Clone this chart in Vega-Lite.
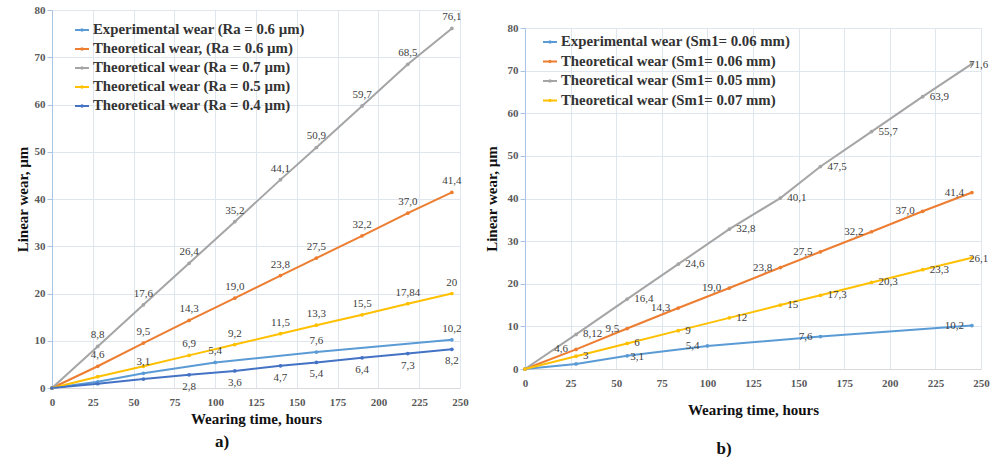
{
  "$schema": "https://vega.github.io/schema/vega-lite/v6.json",
  "padding": {"left": 15, "top": 4, "right": 0, "bottom": 0},
  "background": "white",
  "config": {
    "font": "Liberation Serif",
    "view": {"stroke": null},
    "axis": {
      "labelFont": "Liberation Serif", "labelFontSize": 11, "labelFontWeight": "bold", "labelColor": "#595959", "labelFlush": false,
      "titleFont": "Liberation Serif", "titleFontSize": 15, "titleFontWeight": "bold", "titleColor": "#111111",
      "gridColor": "#dfe6ee", "gridWidth": 1
    },
    "legend": {
      "labelFont": "Liberation Serif", "labelFontSize": 14.8, "labelFontWeight": "bold", "labelColor": "#333333", "labelLimit": 0,
      "symbolType": "M-1,0L1,0M-0.1,0a0.1,0.1 0 1,0 0.2,0a0.1,0.1 0 1,0 -0.2,0",
      "symbolSize": 196, "symbolStrokeWidth": 2, "rowPadding": 4, "padding": 0, "labelOffset": 3
    },
    "title": {"font": "Liberation Serif", "fontSize": 17, "fontWeight": "bold", "color": "#111111"}
  },
  "resolve": {"scale": {"color": "independent"}, "legend": {"color": "independent"}},
  "datasets": {
    "a": [
      {"series": "Experimental wear (Ra = 0.6 µm)", "hours": 0, "wear": 0, "label": ""},
      {"series": "Experimental wear (Ra = 0.6 µm)", "hours": 28, "wear": 1.3, "label": ""},
      {"series": "Experimental wear (Ra = 0.6 µm)", "hours": 56, "wear": 3.1, "label": "3,1"},
      {"series": "Experimental wear (Ra = 0.6 µm)", "hours": 100, "wear": 5.4, "label": "5,4"},
      {"series": "Experimental wear (Ra = 0.6 µm)", "hours": 162, "wear": 7.6, "label": "7,6"},
      {"series": "Experimental wear (Ra = 0.6 µm)", "hours": 245, "wear": 10.2, "label": "10,2"},
      {"series": "Theoretical wear, (Ra = 0.6 µm)", "hours": 0, "wear": 0, "label": ""},
      {"series": "Theoretical wear, (Ra = 0.6 µm)", "hours": 28, "wear": 4.6, "label": "4,6"},
      {"series": "Theoretical wear, (Ra = 0.6 µm)", "hours": 56, "wear": 9.5, "label": "9,5"},
      {"series": "Theoretical wear, (Ra = 0.6 µm)", "hours": 84, "wear": 14.3, "label": "14,3"},
      {"series": "Theoretical wear, (Ra = 0.6 µm)", "hours": 112, "wear": 19.0, "label": "19,0"},
      {"series": "Theoretical wear, (Ra = 0.6 µm)", "hours": 140, "wear": 23.8, "label": "23,8"},
      {"series": "Theoretical wear, (Ra = 0.6 µm)", "hours": 162, "wear": 27.5, "label": "27,5"},
      {"series": "Theoretical wear, (Ra = 0.6 µm)", "hours": 190, "wear": 32.2, "label": "32,2"},
      {"series": "Theoretical wear, (Ra = 0.6 µm)", "hours": 218, "wear": 37.0, "label": "37,0"},
      {"series": "Theoretical wear, (Ra = 0.6 µm)", "hours": 245, "wear": 41.4, "label": "41,4"},
      {"series": "Theoretical wear (Ra = 0.7 µm)", "hours": 0, "wear": 0, "label": ""},
      {"series": "Theoretical wear (Ra = 0.7 µm)", "hours": 28, "wear": 8.8, "label": "8,8"},
      {"series": "Theoretical wear (Ra = 0.7 µm)", "hours": 56, "wear": 17.6, "label": "17,6"},
      {"series": "Theoretical wear (Ra = 0.7 µm)", "hours": 84, "wear": 26.4, "label": "26,4"},
      {"series": "Theoretical wear (Ra = 0.7 µm)", "hours": 112, "wear": 35.2, "label": "35,2"},
      {"series": "Theoretical wear (Ra = 0.7 µm)", "hours": 140, "wear": 44.1, "label": "44,1"},
      {"series": "Theoretical wear (Ra = 0.7 µm)", "hours": 162, "wear": 50.9, "label": "50,9"},
      {"series": "Theoretical wear (Ra = 0.7 µm)", "hours": 190, "wear": 59.7, "label": "59,7"},
      {"series": "Theoretical wear (Ra = 0.7 µm)", "hours": 218, "wear": 68.5, "label": "68,5"},
      {"series": "Theoretical wear (Ra = 0.7 µm)", "hours": 245, "wear": 76.1, "label": "76,1"},
      {"series": "Theoretical wear (Ra = 0.5 µm)", "hours": 0, "wear": 0, "label": ""},
      {"series": "Theoretical wear (Ra = 0.5 µm)", "hours": 28, "wear": 2.4, "label": ""},
      {"series": "Theoretical wear (Ra = 0.5 µm)", "hours": 56, "wear": 4.6, "label": ""},
      {"series": "Theoretical wear (Ra = 0.5 µm)", "hours": 84, "wear": 6.9, "label": "6,9"},
      {"series": "Theoretical wear (Ra = 0.5 µm)", "hours": 112, "wear": 9.2, "label": "9,2"},
      {"series": "Theoretical wear (Ra = 0.5 µm)", "hours": 140, "wear": 11.5, "label": "11,5"},
      {"series": "Theoretical wear (Ra = 0.5 µm)", "hours": 162, "wear": 13.3, "label": "13,3"},
      {"series": "Theoretical wear (Ra = 0.5 µm)", "hours": 190, "wear": 15.5, "label": "15,5"},
      {"series": "Theoretical wear (Ra = 0.5 µm)", "hours": 218, "wear": 17.84, "label": "17,84"},
      {"series": "Theoretical wear (Ra = 0.5 µm)", "hours": 245, "wear": 20, "label": "20"},
      {"series": "Theoretical wear (Ra = 0.4 µm)", "hours": 0, "wear": 0, "label": ""},
      {"series": "Theoretical wear (Ra = 0.4 µm)", "hours": 28, "wear": 0.9, "label": ""},
      {"series": "Theoretical wear (Ra = 0.4 µm)", "hours": 56, "wear": 1.9, "label": ""},
      {"series": "Theoretical wear (Ra = 0.4 µm)", "hours": 84, "wear": 2.8, "label": "2,8"},
      {"series": "Theoretical wear (Ra = 0.4 µm)", "hours": 112, "wear": 3.6, "label": "3,6"},
      {"series": "Theoretical wear (Ra = 0.4 µm)", "hours": 140, "wear": 4.7, "label": "4,7"},
      {"series": "Theoretical wear (Ra = 0.4 µm)", "hours": 162, "wear": 5.4, "label": "5,4"},
      {"series": "Theoretical wear (Ra = 0.4 µm)", "hours": 190, "wear": 6.4, "label": "6,4"},
      {"series": "Theoretical wear (Ra = 0.4 µm)", "hours": 218, "wear": 7.3, "label": "7,3"},
      {"series": "Theoretical wear (Ra = 0.4 µm)", "hours": 245, "wear": 8.2, "label": "8,2"}
    ],
    "b": [
      {"series": "Experimental wear (Sm1= 0.06 mm)", "hours": 0, "wear": 0, "label": ""},
      {"series": "Experimental wear (Sm1= 0.06 mm)", "hours": 28, "wear": 1.2, "label": ""},
      {"series": "Experimental wear (Sm1= 0.06 mm)", "hours": 56, "wear": 3.1, "label": "3,1"},
      {"series": "Experimental wear (Sm1= 0.06 mm)", "hours": 100, "wear": 5.4, "label": "5,4"},
      {"series": "Experimental wear (Sm1= 0.06 mm)", "hours": 162, "wear": 7.6, "label": "7,6"},
      {"series": "Experimental wear (Sm1= 0.06 mm)", "hours": 245, "wear": 10.2, "label": "10,2"},
      {"series": "Theoretical wear (Sm1= 0.06 mm)", "hours": 0, "wear": 0, "label": ""},
      {"series": "Theoretical wear (Sm1= 0.06 mm)", "hours": 28, "wear": 4.6, "label": "4,6"},
      {"series": "Theoretical wear (Sm1= 0.06 mm)", "hours": 56, "wear": 9.5, "label": "9,5"},
      {"series": "Theoretical wear (Sm1= 0.06 mm)", "hours": 84, "wear": 14.3, "label": "14,3"},
      {"series": "Theoretical wear (Sm1= 0.06 mm)", "hours": 112, "wear": 19.0, "label": "19,0"},
      {"series": "Theoretical wear (Sm1= 0.06 mm)", "hours": 140, "wear": 23.8, "label": "23,8"},
      {"series": "Theoretical wear (Sm1= 0.06 mm)", "hours": 162, "wear": 27.5, "label": "27,5"},
      {"series": "Theoretical wear (Sm1= 0.06 mm)", "hours": 190, "wear": 32.2, "label": "32,2"},
      {"series": "Theoretical wear (Sm1= 0.06 mm)", "hours": 218, "wear": 37.0, "label": "37,0"},
      {"series": "Theoretical wear (Sm1= 0.06 mm)", "hours": 245, "wear": 41.4, "label": "41,4"},
      {"series": "Theoretical wear (Sm1= 0.05 mm)", "hours": 0, "wear": 0, "label": ""},
      {"series": "Theoretical wear (Sm1= 0.05 mm)", "hours": 28, "wear": 8.12, "label": "8,12"},
      {"series": "Theoretical wear (Sm1= 0.05 mm)", "hours": 56, "wear": 16.4, "label": "16,4"},
      {"series": "Theoretical wear (Sm1= 0.05 mm)", "hours": 84, "wear": 24.6, "label": "24,6"},
      {"series": "Theoretical wear (Sm1= 0.05 mm)", "hours": 112, "wear": 32.8, "label": "32,8"},
      {"series": "Theoretical wear (Sm1= 0.05 mm)", "hours": 140, "wear": 40.1, "label": "40,1"},
      {"series": "Theoretical wear (Sm1= 0.05 mm)", "hours": 162, "wear": 47.5, "label": "47,5"},
      {"series": "Theoretical wear (Sm1= 0.05 mm)", "hours": 190, "wear": 55.7, "label": "55,7"},
      {"series": "Theoretical wear (Sm1= 0.05 mm)", "hours": 218, "wear": 63.9, "label": "63,9"},
      {"series": "Theoretical wear (Sm1= 0.05 mm)", "hours": 245, "wear": 71.6, "label": "71,6"},
      {"series": "Theoretical wear (Sm1= 0.07 mm)", "hours": 0, "wear": 0, "label": ""},
      {"series": "Theoretical wear (Sm1= 0.07 mm)", "hours": 28, "wear": 3, "label": "3"},
      {"series": "Theoretical wear (Sm1= 0.07 mm)", "hours": 56, "wear": 6, "label": "6"},
      {"series": "Theoretical wear (Sm1= 0.07 mm)", "hours": 84, "wear": 9, "label": "9"},
      {"series": "Theoretical wear (Sm1= 0.07 mm)", "hours": 112, "wear": 12, "label": "12"},
      {"series": "Theoretical wear (Sm1= 0.07 mm)", "hours": 140, "wear": 15, "label": "15"},
      {"series": "Theoretical wear (Sm1= 0.07 mm)", "hours": 162, "wear": 17.3, "label": "17,3"},
      {"series": "Theoretical wear (Sm1= 0.07 mm)", "hours": 190, "wear": 20.3, "label": "20,3"},
      {"series": "Theoretical wear (Sm1= 0.07 mm)", "hours": 218, "wear": 23.3, "label": "23,3"},
      {"series": "Theoretical wear (Sm1= 0.07 mm)", "hours": 245, "wear": 26.1, "label": "26,1"}
    ]
  },
  "spacing": 15,
  "hconcat": [
    {
      "width": 408,
      "height": 378,
      "data": {"name": "a"},
      "title": {"text": "a)", "orient": "bottom", "anchor": "middle", "dx": -34, "offset": 8},
      "encoding": {
        "x": {"field": "hours", "type": "quantitative", "scale": {"domain": [0, 250], "nice": false},
          "axis": {"values": [0, 25, 50, 75, 100, 125, 150, 175, 200, 225, 250], "title": "Wearing time, hours", "ticks": false, "labelPadding": 8, "titlePadding": 4, "domainColor": "#d9d9d9"}},
        "y": {"field": "wear", "type": "quantitative", "scale": {"domain": [0, 80], "nice": false},
          "axis": {"values": [0, 10, 20, 30, 40, 50, 60, 70, 80], "title": "Linear wear, µm", "tickSize": 5, "tickColor": "#a9c4e4", "domainColor": "#a9c4e4", "labelPadding": 2, "titlePadding": 4}}
      },
      "layer": [
        {
          "mark": {"type": "line", "strokeWidth": 2, "point": {"filled": true, "size": 14}},
          "encoding": {
            "color": {"field": "series", "type": "nominal",
              "scale": {"domain": ["Experimental wear (Ra = 0.6 µm)", "Theoretical wear, (Ra = 0.6 µm)", "Theoretical wear (Ra = 0.7 µm)", "Theoretical wear (Ra = 0.5 µm)", "Theoretical wear (Ra = 0.4 µm)"],
                "range": ["#5B9BD5", "#ED7D31", "#A5A5A5", "#FFC000", "#4472C4"]},
              "legend": {"orient": "none", "legendX": 22, "legendY": 12, "title": null}}
          }
        },
        {
          "transform": [{"filter": "datum.label !== '' && datum.series !== 'Theoretical wear (Ra = 0.4 µm)'"}],
          "mark": {"type": "text", "dy": -11, "fontSize": 11, "color": "#404040", "baseline": "middle"},
          "encoding": {"text": {"field": "label"}}
        },
        {
          "transform": [{"filter": "datum.label !== '' && datum.series === 'Theoretical wear (Ra = 0.4 µm)'"}],
          "mark": {"type": "text", "dy": 12, "fontSize": 11, "color": "#404040", "baseline": "middle"},
          "encoding": {"text": {"field": "label"}}
        }
      ]
    },
    {
      "spacing": 0,
      "vconcat": [
        {
          "width": 456,
          "height": 12,
          "data": {"values": []},
          "mark": {"type": "point", "opacity": 0}
        },
        {
          "width": 456,
          "height": 341,
          "data": {"name": "b"},
          "title": {"text": "b)", "orient": "bottom", "anchor": "middle", "dx": -29, "offset": 24},
          "encoding": {
            "x": {"field": "hours", "type": "quantitative", "scale": {"domain": [0, 250], "nice": false},
              "axis": {"values": [0, 25, 50, 75, 100, 125, 150, 175, 200, 225, 250], "title": "Wearing time, hours", "ticks": false, "labelPadding": 8, "titlePadding": 14, "domainColor": "#d9d9d9"}},
            "y": {"field": "wear", "type": "quantitative", "scale": {"domain": [0, 80], "nice": false},
              "axis": {"values": [0, 10, 20, 30, 40, 50, 60, 70, 80], "title": "Linear wear, µm", "tickSize": 5, "tickColor": "#a9c4e4", "domainColor": "#a9c4e4", "labelPadding": 2, "titlePadding": 8}}
          },
          "layer": [
            {
              "mark": {"type": "line", "strokeWidth": 2, "point": {"filled": true, "size": 14}},
              "encoding": {
                "color": {"field": "series", "type": "nominal",
                  "scale": {"domain": ["Experimental wear (Sm1= 0.06 mm)", "Theoretical wear (Sm1= 0.06 mm)", "Theoretical wear (Sm1= 0.05 mm)", "Theoretical wear (Sm1= 0.07 mm)"],
                    "range": ["#5B9BD5", "#ED7D31", "#A5A5A5", "#FFC000"]},
                  "legend": {"orient": "none", "legendX": 17, "legendY": 24, "title": null, "rowPadding": 4.5}}
              }
            },
            {
              "transform": [{"filter": "datum.label !== '' && datum.hours < 245 && (datum.series === 'Theoretical wear (Sm1= 0.05 mm)' || datum.series === 'Theoretical wear (Sm1= 0.07 mm)')"}],
              "mark": {"type": "text", "dx": 7, "align": "left", "fontSize": 11, "color": "#404040", "baseline": "middle"},
              "encoding": {"text": {"field": "label"}}
            },
            {
              "transform": [{"filter": "datum.hours === 245 && (datum.series === 'Theoretical wear (Sm1= 0.05 mm)' || datum.series === 'Theoretical wear (Sm1= 0.07 mm)')"}],
              "mark": {"type": "text", "dx": -3, "dy": 1, "align": "left", "fontSize": 11, "color": "#404040", "baseline": "middle"},
              "encoding": {"text": {"field": "label"}}
            },
            {
              "transform": [{"filter": "datum.label !== '' && (datum.series === 'Theoretical wear (Sm1= 0.06 mm)' || (datum.series === 'Experimental wear (Sm1= 0.06 mm)' && datum.hours !== 56))"}],
              "mark": {"type": "text", "dx": -8, "align": "right", "fontSize": 11, "color": "#404040", "baseline": "middle"},
              "encoding": {"text": {"field": "label"}}
            },
            {
              "transform": [{"filter": "datum.series === 'Experimental wear (Sm1= 0.06 mm)' && datum.hours === 56"}],
              "mark": {"type": "text", "dx": 3, "dy": 1, "align": "left", "fontSize": 11, "color": "#404040", "baseline": "middle"},
              "encoding": {"text": {"field": "label"}}
            }
          ]
        }
      ]
    }
  ]
}
